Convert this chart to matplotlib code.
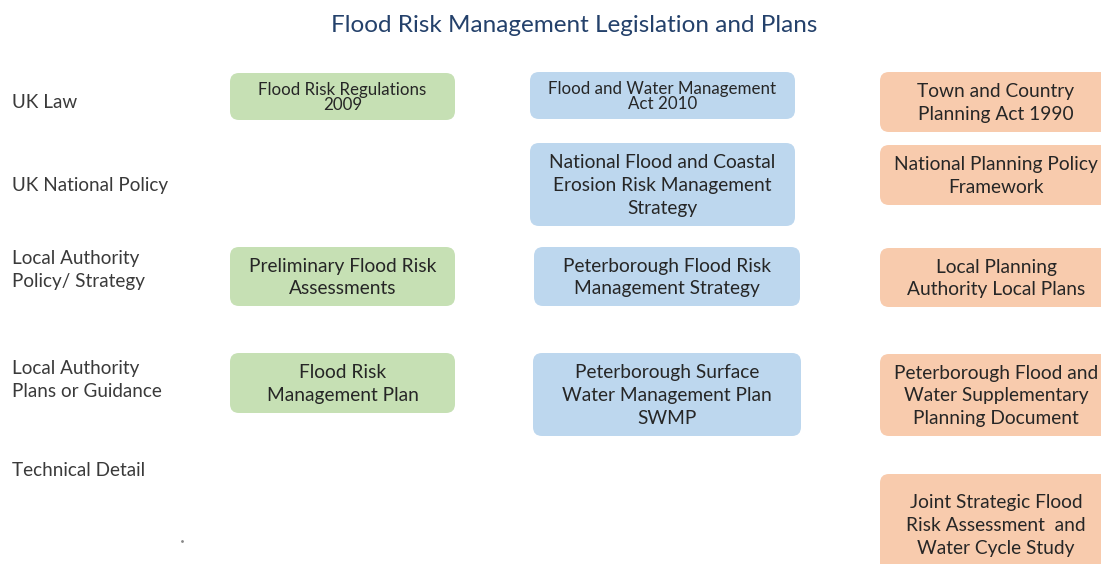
import matplotlib
matplotlib.use('Agg')
import matplotlib.pyplot as plt
from matplotlib.patches import FancyBboxPatch

plt.rcParams['font.family'] = ['Lato', 'DejaVu Sans']

title = 'Flood Risk Management Legislation and Plans'

# row headings on the left
row_labels = ['UK Law', 'UK National Policy', 'Local Authority\nPolicy/ Strategy',
              'Local Authority\nPlans or Guidance', 'Technical Detail']
row_label_y = [102, 186, 270, 380, 471]

# box texts per column
green_texts = ['Flood Risk Regulations\n2009',
               'Preliminary Flood Risk\nAssessments',
               'Flood Risk\nManagement Plan']
blue_texts = ['Flood and Water Management\nAct 2010',
              'National Flood and Coastal\nErosion Risk Management\nStrategy',
              'Peterborough Flood Risk\nManagement Strategy',
              'Peterborough Surface\nWater Management Plan\nSWMP']
orange_texts = ['Town and Country\nPlanning Act 1990',
                'National Planning Policy\nFramework',
                'Local Planning\nAuthority Local Plans',
                'Peterborough Flood and\nWater Supplementary\nPlanning Document',
                'Joint Strategic Flood\nRisk Assessment  and\nWater Cycle Study']

# box layout in pixels: (left, top, right, bottom)
green_boxes = [(230, 73, 455, 120), (230, 247, 455, 306), (230, 353, 455, 413)]
blue_boxes = [(530, 72, 795, 119), (530, 143, 795, 226),
              (534, 247, 800, 306), (533, 353, 801, 436)]
orange_boxes = [(880, 72, 1115, 132), (880, 145, 1115, 205), (880, 248, 1115, 307),
                (880, 354, 1115, 436), (880, 474, 1115, 575)]

green_sizes = [12.2, 13.8, 13.8]
blue_sizes = [12.2, 13.8, 13.8, 13.8]
orange_sizes = [13.8, 13.8, 13.8, 13.8, 13.8]

fig = plt.figure(figsize=(11.01, 5.64), dpi=100)
ax = fig.add_axes([0, 0, 1, 1])
ax.set_xlim(0, 1101)
ax.set_ylim(564, 0)
ax.axis('off')

ax.text(574, 26, title, ha='center', va='center', fontsize=17.5, color='#24416b')

for lab, y in zip(row_labels, row_label_y):
    ax.text(12, y, lab, ha='left', va='center', fontsize=13.6, color='#3a3a3a',
            linespacing=1.45)

ax.plot([182], [541], marker='.', markersize=2, color='#888888')


def draw_boxes(boxes, texts, sizes, color):
    for (l, t, r, b), txt, fs in zip(boxes, texts, sizes):
        p = FancyBboxPatch((l + 9, t + 9), r - l - 18, b - t - 18,
                           boxstyle='round,pad=9', facecolor=color,
                           edgecolor='none')
        ax.add_patch(p)
        ls = 0.85 if fs < 13 else 1.42
        ax.text((l + min(r, 1112)) / 2, (t + b) / 2 + 1, txt,
                ha='center', va='center', fontsize=fs, color='#262626',
                linespacing=ls)


draw_boxes(green_boxes, green_texts, green_sizes, '#c6e0b4')
draw_boxes(blue_boxes, blue_texts, blue_sizes, '#bdd7ee')
draw_boxes(orange_boxes, orange_texts, orange_sizes, '#f8cbad')

fig.savefig('out.png', dpi=100)
